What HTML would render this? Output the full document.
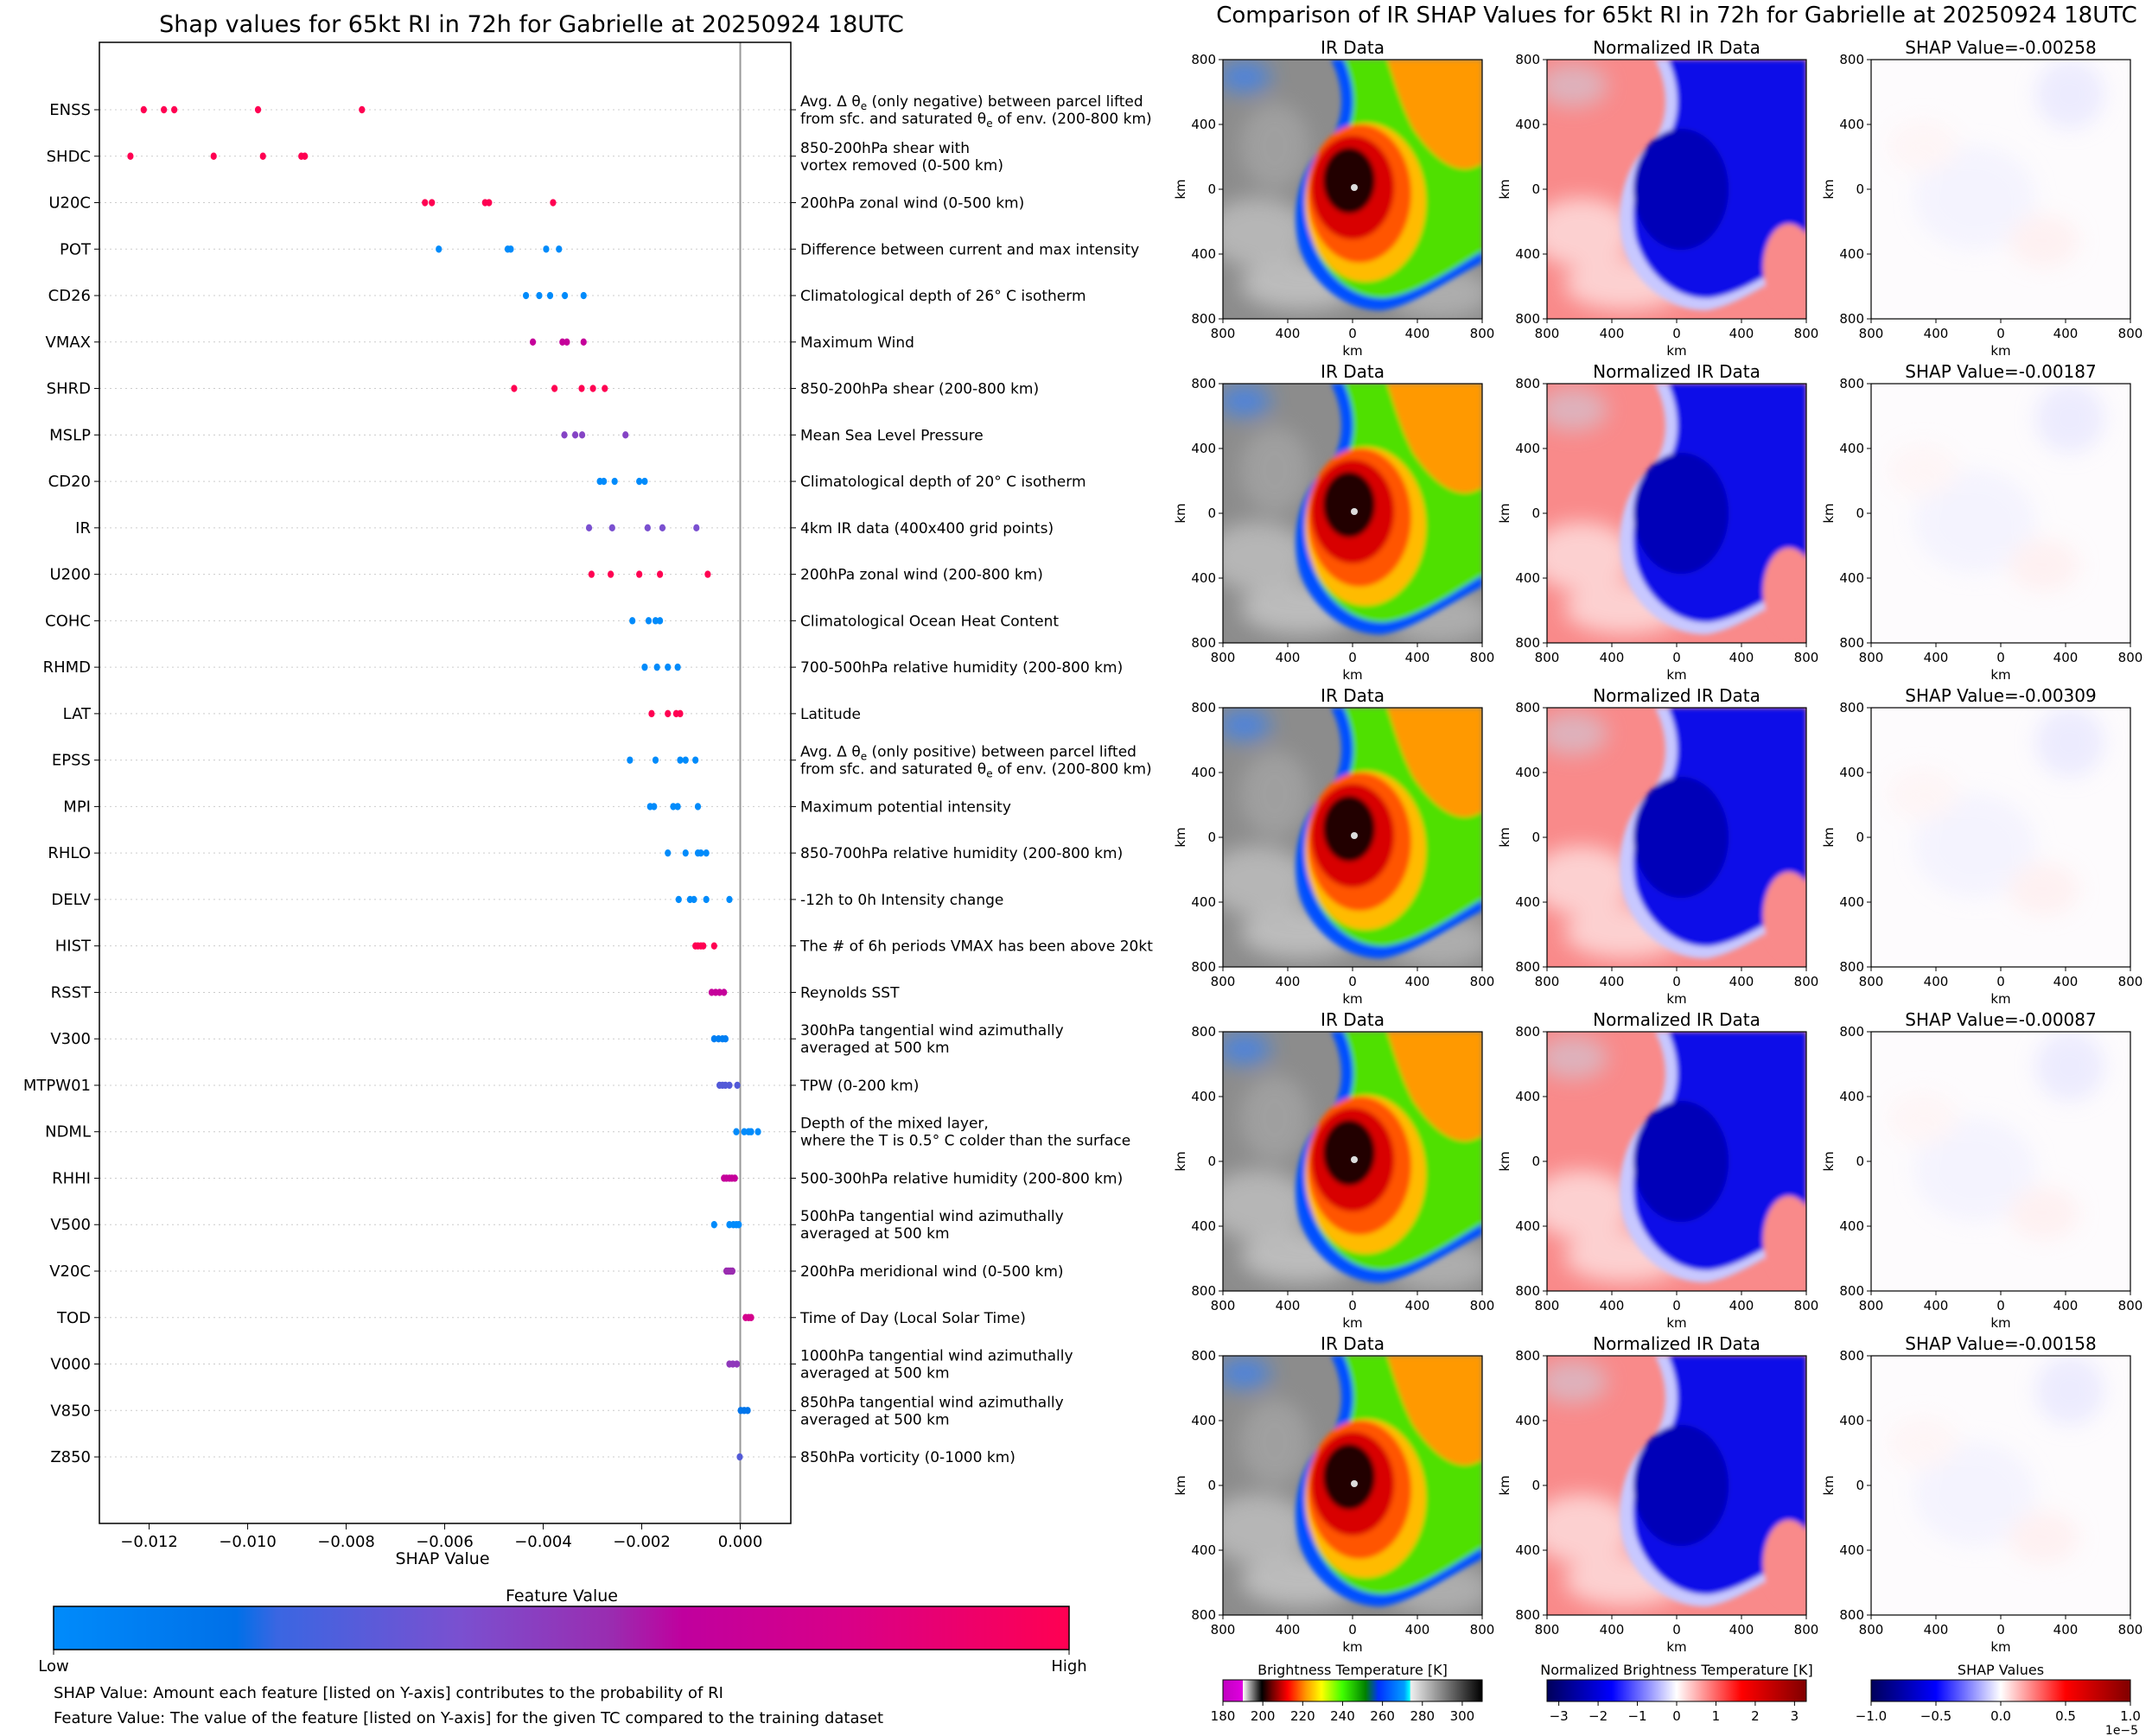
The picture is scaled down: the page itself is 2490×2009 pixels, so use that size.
<!DOCTYPE html>
<html><head><meta charset="utf-8"><style>
html,body{margin:0;padding:0;background:#fff}
svg{display:block;font-family:"DejaVu Sans","Liberation Sans",sans-serif}
</style></head><body>
<svg id="root" width="2490" height="2009" viewBox="0 0 2490 2009" xmlns="http://www.w3.org/2000/svg">
<defs>
<linearGradient id="fvgrad" x1="0" x2="1" y1="0" y2="0">
<stop offset="0" stop-color="#008bfb"/><stop offset="0.18" stop-color="#0070e8"/><stop offset="0.22" stop-color="#3a66e2"/>
<stop offset="0.4" stop-color="#7a50d0"/><stop offset="0.55" stop-color="#9a2cb0"/><stop offset="0.62" stop-color="#c0009e"/>
<stop offset="0.78" stop-color="#d80088"/><stop offset="1" stop-color="#ff0052"/></linearGradient>
<linearGradient id="btgrad" x1="0" x2="1">
<stop offset="0" stop-color="#c000c0"/><stop offset="0.076" stop-color="#e000e0"/><stop offset="0.077" stop-color="#ffffff"/>
<stop offset="0.15" stop-color="#000"/><stop offset="0.19" stop-color="#700000"/><stop offset="0.25" stop-color="#ff0000"/>
<stop offset="0.32" stop-color="#ff9900"/><stop offset="0.38" stop-color="#ffff00"/><stop offset="0.46" stop-color="#40ff00"/>
<stop offset="0.55" stop-color="#008000"/><stop offset="0.6" stop-color="#0030ff"/><stop offset="0.7" stop-color="#00a0ff"/>
<stop offset="0.72" stop-color="#00ffff"/><stop offset="0.725" stop-color="#eeeeee"/><stop offset="1" stop-color="#000"/></linearGradient>
<linearGradient id="swgrad" x1="0" x2="1">
<stop offset="0" stop-color="#00005a"/><stop offset="0.25" stop-color="#0000ff"/><stop offset="0.5" stop-color="#ffffff"/>
<stop offset="0.75" stop-color="#ff0000"/><stop offset="1" stop-color="#800000"/></linearGradient>
<filter id="blur" x="-10%" y="-10%" width="120%" height="120%"><feGaussianBlur stdDeviation="3"/></filter>
<filter id="blur2"><feGaussianBlur stdDeviation="12"/></filter>
<clipPath id="pclip"><rect x="0" y="0" width="300" height="300"/></clipPath>
<g id="irimg" clip-path="url(#pclip)">
<rect width="300" height="300" fill="#8c8c8c"/>
<g filter="url(#blur2)" opacity="0.7"><ellipse cx="40" cy="200" rx="60" ry="40" fill="#c8c8c8"/><ellipse cx="90" cy="260" rx="70" ry="30" fill="#d0d0d0"/><ellipse cx="250" cy="270" rx="60" ry="30" fill="#bbb"/><ellipse cx="25" cy="20" rx="30" ry="18" fill="#3080ff"/><ellipse cx="60" cy="100" rx="40" ry="50" fill="#a8a8a8"/></g>
<g filter="url(#blur)">
<path d="M125 0 L300 0 L300 235 C260 255 220 285 185 290 C145 292 105 262 90 222 C76 180 88 122 118 100 C138 80 145 40 125 0Z" fill="#0050ff"/>
<path d="M140 0 L300 0 L300 222 C262 245 222 272 188 276 C150 278 115 248 103 208 C94 170 104 118 132 98 C152 82 158 40 140 0Z" fill="#50e000"/>
<path d="M190 0 L300 0 L300 120 C270 140 240 110 220 80 C205 50 200 30 190 0Z" fill="#ff9900"/>
<ellipse cx="165" cy="165" rx="70" ry="92" fill="#ffbb00"/>
<ellipse cx="158" cy="155" rx="60" ry="80" fill="#ff5500"/>
<ellipse cx="150" cy="148" rx="48" ry="60" fill="#d80000"/>
<ellipse cx="146" cy="140" rx="30" ry="38" fill="#200000"/>
</g>
<circle cx="152" cy="148" r="4" fill="#ddd"/>
</g>
<g id="nimg" clip-path="url(#pclip)">
<rect width="300" height="300" fill="#f98a8a"/>
<g filter="url(#blur2)" opacity="0.6"><ellipse cx="40" cy="200" rx="60" ry="40" fill="#fff"/><ellipse cx="90" cy="260" rx="70" ry="30" fill="#fff"/><ellipse cx="30" cy="30" rx="40" ry="25" fill="#ccd"/></g>
<g filter="url(#blur)">
<path d="M125 0 L300 0 L300 235 C260 255 220 285 185 290 C145 292 105 262 90 222 C76 180 88 122 118 100 C138 80 145 40 125 0Z" fill="#c8c8ff"/>
<path d="M140 0 L300 0 L300 222 C262 245 222 272 188 276 C150 278 115 248 103 208 C94 170 104 118 132 98 C152 82 158 40 140 0Z" fill="#0808e8"/>
<ellipse cx="155" cy="150" rx="55" ry="70" fill="#0000b8"/>
<ellipse cx="280" cy="240" rx="30" ry="50" fill="#f98a8a"/>
</g>
</g>
<g id="simg" clip-path="url(#pclip)">
<rect width="300" height="300" fill="#fdfbfd"/>
<g filter="url(#blur2)" opacity="0.5"><ellipse cx="230" cy="40" rx="40" ry="40" fill="#dcdcff"/><ellipse cx="120" cy="160" rx="70" ry="60" fill="#ececff"/><ellipse cx="200" cy="210" rx="40" ry="30" fill="#ffe6e6"/><ellipse cx="60" cy="100" rx="40" ry="30" fill="#fff0f0"/></g>
</g>
</defs>

<text x="615" y="37" font-size="27" text-anchor="middle">Shap values for 65kt RI in 72h for Gabrielle at 20250924 18UTC</text>
<g id="chart"></g>
<text x="512" y="1810" font-size="19" text-anchor="middle">SHAP Value</text>
<text x="650" y="1853" font-size="19" text-anchor="middle">Feature Value</text>
<rect x="62" y="1859" width="1175" height="50" fill="url(#fvgrad)" stroke="#000" stroke-width="1.5"/>
<line x1="62" y1="1909" x2="62" y2="1915" stroke="#000"/><line x1="1237" y1="1909" x2="1237" y2="1915" stroke="#000"/>
<text x="62" y="1934" font-size="18" text-anchor="middle">Low</text>
<text x="1237" y="1934" font-size="18" text-anchor="middle">High</text>
<text x="62" y="1965" font-size="18">SHAP Value: Amount each feature [listed on Y-axis] contributes to the probability of RI</text>
<text x="62" y="1994" font-size="18">Feature Value: The value of the feature [listed on Y-axis] for the given TC compared to the training dataset</text>

<text x="1940" y="26" font-size="26" text-anchor="middle">Comparison of IR SHAP Values for 65kt RI in 72h for Gabrielle at 20250924 18UTC</text>
<g id="panels"></g>

<g>
<text x="1565" y="1938" font-size="16" text-anchor="middle">Brightness Temperature [K]</text>
<rect x="1415" y="1944" width="300" height="25" fill="url(#btgrad)" stroke="#000"/>
</g>
<g>
<text x="1940" y="1938" font-size="16" text-anchor="middle">Normalized Brightness Temperature [K]</text>
<rect x="1790" y="1944" width="300" height="25" fill="url(#swgrad)" stroke="#000"/>
</g>
<g>
<text x="2315" y="1938" font-size="16" text-anchor="middle">SHAP Values</text>
<rect x="2165" y="1944" width="300" height="25" fill="url(#swgrad)" stroke="#000"/>
<text x="2455" y="2007" font-size="14" text-anchor="middle">1e−5</text>
</g>
<g id="cbticks"></g>
</svg>
<script>
const features = ["ENSS","SHDC","U20C","POT","CD26","VMAX","SHRD","MSLP","CD20","IR","U200","COHC","RHMD","LAT","EPSS","MPI","RHLO","DELV","HIST","RSST","V300","MTPW01","NDML","RHHI","V500","V20C","TOD","V000","V850","Z850"];
const shapValues = [
[-0.01211,-0.01170,-0.01149,-0.00979,-0.00768],
[-0.01238,-0.01069,-0.00969,-0.00891,-0.00884],
[-0.00640,-0.00626,-0.00518,-0.00510,-0.00380],
[-0.00612,-0.00472,-0.00466,-0.00394,-0.00368],
[-0.00435,-0.00408,-0.00386,-0.00356,-0.00318],
[-0.00421,-0.00361,-0.00352,-0.00318],
[-0.00459,-0.00377,-0.00322,-0.00299,-0.00275],
[-0.00357,-0.00335,-0.00321,-0.00233],
[-0.00285,-0.00277,-0.00255,-0.00205,-0.00194],
[-0.00307,-0.00260,-0.00188,-0.00158,-0.00089],
[-0.00302,-0.00263,-0.00205,-0.00163,-0.00066],
[-0.00219,-0.00186,-0.00172,-0.00163],
[-0.00194,-0.00169,-0.00147,-0.00127],
[-0.00180,-0.00147,-0.00130,-0.00122],
[-0.00224,-0.00172,-0.00122,-0.00111,-0.00091],
[-0.00183,-0.00175,-0.00136,-0.00127,-0.00086],
[-0.00147,-0.00111,-0.00086,-0.00080,-0.00069],
[-0.00125,-0.00102,-0.00094,-0.00069,-0.00022],
[-0.00091,-0.00086,-0.00080,-0.00075,-0.00053],
[-0.00058,-0.00050,-0.00042,-0.00033],
[-0.00053,-0.00044,-0.00036,-0.00030],
[-0.00042,-0.00036,-0.00030,-0.00022,-0.00006],
[-0.00008,0.00008,0.00017,0.00022,0.00036],
[-0.00033,-0.00028,-0.00022,-0.00017,-0.00011],
[-0.00053,-0.00022,-0.00014,-0.00008,-0.00003],
[-0.00028,-0.00024,-0.00020,-0.00016],
[0.00011,0.00017,0.00022],
[-0.00022,-0.00015,-0.00007],
[0.00001,0.00008,0.00015],
[-0.00001]];
const featureLevel = [1,1,1,0,0,0.65,1,0.45,0,0.4,1,0,0,1,0,0,0,0,1,0.65,0.08,0.33,0,0.65,0,0.55,0.75,0.5,0.15,0.33];
const descriptions = [
["Avg. Δ θ|e| (only negative) between parcel lifted","from sfc. and saturated θ|e| of env. (200-800 km)"],
["850-200hPa shear with","vortex removed (0-500 km)"],["200hPa zonal wind (0-500 km)"],["Difference between current and max intensity"],
["Climatological depth of 26° C isotherm"],["Maximum Wind"],["850-200hPa shear (200-800 km)"],["Mean Sea Level Pressure"],
["Climatological depth of 20° C isotherm"],["4km IR data (400x400 grid points)"],["200hPa zonal wind (200-800 km)"],
["Climatological Ocean Heat Content"],["700-500hPa relative humidity (200-800 km)"],["Latitude"],
["Avg. Δ θ|e| (only positive) between parcel lifted","from sfc. and saturated θ|e| of env. (200-800 km)"],
["Maximum potential intensity"],["850-700hPa relative humidity (200-800 km)"],["-12h to 0h Intensity change"],
["The # of 6h periods VMAX has been above 20kt"],["Reynolds SST"],["300hPa tangential wind azimuthally","averaged at 500 km"],
["TPW (0-200 km)"],["Depth of the mixed layer,","where the T is 0.5° C colder than the surface"],
["500-300hPa relative humidity (200-800 km)"],["500hPa tangential wind azimuthally","averaged at 500 km"],
["200hPa meridional wind (0-500 km)"],["Time of Day (Local Solar Time)"],["1000hPa tangential wind azimuthally","averaged at 500 km"],
["850hPa tangential wind azimuthally","averaged at 500 km"],["850hPa vorticity (0-1000 km)"]];
const xTicks = [-0.012,-0.010,-0.008,-0.006,-0.004,-0.002,0.000];
const xTickLabels = ["−0.012","−0.010","−0.008","−0.006","−0.004","−0.002","0.000"];
const panelTitles = ["SHAP Value=-0.00258","SHAP Value=-0.00187","SHAP Value=-0.00309","SHAP Value=-0.00087","SHAP Value=-0.00158"];
const kmTickLabels = ["800","400","0","400","800"];
const btTicks = [180,200,220,240,260,280,300];
const normTicks = [-3,-2,-1,0,1,2,3];
const shapCbTicks = [-1.0,-0.5,0.0,0.5,1.0];
const shapCbLabels = ["−1.0","−0.5","0.0","0.5","1.0"];

const NS="http://www.w3.org/2000/svg";
function mk(tag,attrs,parent){const e=document.createElementNS(NS,tag);for(const k in attrs)e.setAttribute(k,attrs[k]);parent.appendChild(e);return e;}
const L=115,R=915,T=49,B=1763;
const xMin=-0.01301,xMax=0.001026;
function xs(v){return L+(v-xMin)/(xMax-xMin)*(R-L);}
const rowY0=127,rowStep=53.76;
function ys(i){return rowY0+i*rowStep;}
function lerpColor(t){
 const st=[[0,[0,139,251]],[0.18,[0,112,232]],[0.4,[122,80,208]],[0.55,[154,44,176]],[0.62,[192,0,158]],[0.78,[216,0,136]],[1,[255,0,82]]];
 for(let i=1;i<st.length;i++){if(t<=st[i][0]){const a=st[i-1],b=st[i];const f=(t-a[0])/(b[0]-a[0]);return "rgb("+a[1].map((c,j)=>Math.round(c+(b[1][j]-c)*f)).join(",")+")";}}
 return "rgb(255,0,82)";}
const chart=document.getElementById('chart');
features.forEach((f,i)=>{
 const y=ys(i);
 const g=mk('line',{x1:L,x2:R,y1:y,y2:y,stroke:'#ccc','stroke-width':1,'stroke-dasharray':'2,4'},chart);
 
 
});
const zl=mk('line',{x1:xs(0),x2:xs(0),y1:T,y2:B,stroke:'#999','stroke-width':2},chart);


features.forEach((f,i)=>{
 const y=ys(i);
 mk('line',{x1:L-6,x2:L,y1:y,y2:y,stroke:'#000'},chart);
 mk('line',{x1:R,x2:R+6,y1:y,y2:y,stroke:'#000'},chart);
 const t=mk('text',{x:L-10,y:y+6,'font-size':18,'text-anchor':'end'},chart);
 t.textContent=f;
 
 
 const lines=descriptions[i];
 lines.forEach((ln,k)=>{
  const dy = lines.length===1 ? 6 : (k===0?-4:16);
  const tt=mk('text',{x:R+11,y:y+dy,'font-size':17},chart);
  ln.split('|').forEach((part,pi)=>{const ts=mk('tspan',{},tt);if(pi%2===1){ts.setAttribute('font-size',12);ts.setAttribute('dy',4);}else if(pi>0){ts.setAttribute('dy',-4);}ts.textContent=part;});
  
  
 });
 const col=lerpColor(featureLevel[i]);
 shapValues[i].forEach(v=>{
  const c=mk('ellipse',{cx:xs(v),cy:y,rx:3.6,ry:4.2,fill:col},chart);
  
  
 });
});
const frame=mk('rect',{x:L,y:T,width:R-L,height:B-T,fill:'none',stroke:'#000','stroke-width':1.5},chart);


xTicks.forEach((v,i)=>{
 mk('line',{x1:xs(v),x2:xs(v),y1:B,y2:B+7,stroke:'#000'},chart);
 const t=mk('text',{x:xs(v),y:B+27,'font-size':18,'text-anchor':'middle'},chart);
 t.textContent=xTickLabels[i];
 
 
});
const panels=document.getElementById('panels');
const colX=[1415,1790,2165],rowTop=[69,444,819,1194,1569],PS=300;
const colTitles=["IR Data","Normalized IR Data"];
const imgs=["#irimg","#nimg","#simg"];
rowTop.forEach((py,r)=>{
 colX.forEach((px,c)=>{
  const u=mk('use',{href:imgs[c],x:px,y:py},panels);
  
  
  mk('rect',{x:px,y:py,width:PS,height:PS,fill:'none',stroke:'#000','stroke-width':1.2},panels);
  const tt=mk('text',{x:px+PS/2,y:py-7,'font-size':20,'text-anchor':'middle'},panels);
  tt.textContent = c<2 ? colTitles[c] : panelTitles[r];
  
  
  kmTickLabels.forEach((lab,k)=>{
   const xx=px+k*PS/4, yy=py+k*PS/4;
   mk('line',{x1:xx,x2:xx,y1:py+PS,y2:py+PS+5,stroke:'#000'},panels);
   mk('line',{x1:px-5,x2:px,y1:yy,y2:yy,stroke:'#000'},panels);
   const a=mk('text',{x:xx,y:py+PS+22,'font-size':15,'text-anchor':'middle'},panels);a.textContent=lab;
   const b=mk('text',{x:px-8,y:yy+5,'font-size':15,'text-anchor':'end'},panels);b.textContent=lab;
  });
  const xl=mk('text',{x:px+PS/2,y:py+PS+42,'font-size':15,'text-anchor':'middle'},panels);xl.textContent='km';
  const yl=mk('text',{x:px-44,y:py+PS/2,'font-size':15,'text-anchor':'middle',transform:`rotate(-90 ${px-44} ${py+PS/2})`},panels);yl.textContent='km';
 });
});
const cbt=document.getElementById('cbticks');
function cbTicks(x0,vmin,vmax,vals,labels){vals.forEach((v,i)=>{const x=x0+(v-vmin)/(vmax-vmin)*300;mk('line',{x1:x,x2:x,y1:1969,y2:1974,stroke:'#000'},cbt);const t=mk('text',{x:x,y:1991,'font-size':15,'text-anchor':'middle'},cbt);t.textContent=labels[i];});}
cbTicks(1415,180,310,btTicks,btTicks.map(String));
cbTicks(1790,-3.3,3.3,normTicks,normTicks.map(v=>v<0?"−"+(-v):String(v)));
cbTicks(2165,-1,1,shapCbTicks,shapCbLabels);
</script>
</body></html>
